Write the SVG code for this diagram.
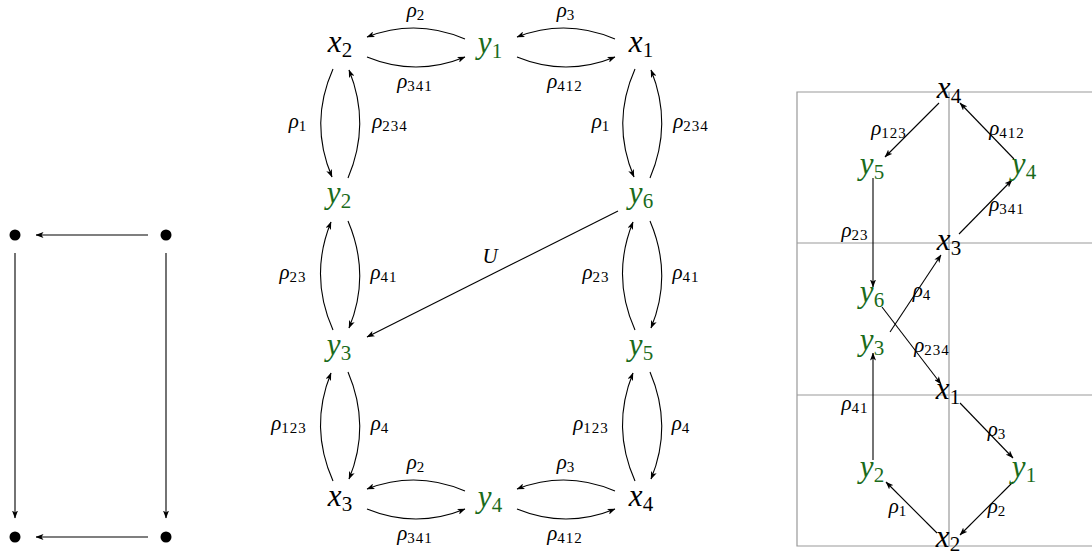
<svg xmlns="http://www.w3.org/2000/svg" width="1092" height="554" viewBox="0 0 1092 554">
<style>
text{font-family:'Liberation Serif','DejaVu Serif','Times New Roman',serif;font-style:italic;fill:#000;text-anchor:middle}
.n{font-size:31px}
.g{fill:#1b6b1b}
.s{font-style:normal;font-size:21px}
.l{font-size:21px}
.ls{font-style:normal;font-size:15px;letter-spacing:1px}
.e{fill:none;stroke:#000;stroke-width:1.1;marker-end:url(#ah)}
.grid{fill:none;stroke:#999;stroke-width:1.2}
</style>
<defs>
<marker id="ah" viewBox="0 0 8 6" refX="7.5" refY="3" markerWidth="8" markerHeight="6" orient="auto" markerUnits="userSpaceOnUse">
<path d="M0,0 L8,3 L0,6 L2,3 Z" fill="#000"/>
</marker>
</defs>
<rect width="1092" height="554" fill="#fff"/>

<g id="left-nodes">
<circle id="d1" cx="15" cy="235" r="5.5"/>
<circle id="d2" cx="166" cy="235" r="5.5"/>
<circle id="d3" cx="15" cy="537" r="5.5"/>
<circle id="d4" cx="166" cy="537" r="5.5"/>
</g>

<g id="grid" class="grid">
<path d="M1100,92 H797 V546 H1100"/>
<path d="M949,92 V546"/>
<path d="M797,243 H1100 M797,395 H1100"/>
</g>

<g id="connectors">
<path class="e" d="M148,235 L36,235"/>
<path class="e" d="M15,253 L15,518"/>
<path class="e" d="M166,253 L166,518"/>
<path class="e" d="M148,537 L36,537"/>
<path class="e" d="M465,39 Q416,18 367,37"/>
<path class="e" d="M367,57 Q416,77 465,57"/>
<path class="e" d="M615,39 Q566,18 517,37"/>
<path class="e" d="M517,57 Q566,77 615,57"/>
<path class="e" d="M465,491 Q416,470 367,489"/>
<path class="e" d="M367,509 Q416,529 465,509"/>
<path class="e" d="M615,491 Q566,470 517,489"/>
<path class="e" d="M517,509 Q566,529 615,509"/>
<path class="e" d="M333,69 Q309,123 332,177"/>
<path class="e" d="M348,178 Q371,124 349,70"/>
<path class="e" d="M333,330 Q309,276 331,222"/>
<path class="e" d="M348,221 Q371,275 349,328"/>
<path class="e" d="M333,481 Q309,427 331,373"/>
<path class="e" d="M348,372 Q371,426 349,479"/>
<path class="e" d="M635,69 Q611,123 634,177"/>
<path class="e" d="M650,178 Q673,124 651,70"/>
<path class="e" d="M635,330 Q611,276 633,222"/>
<path class="e" d="M650,221 Q673,275 651,328"/>
<path class="e" d="M635,481 Q611,427 633,373"/>
<path class="e" d="M650,372 Q673,426 651,479"/>
<path class="e" d="M618,211 L367,337"/>
<path class="e" d="M939,103 L885,157"/>
<path class="e" d="M1014,159 L960,103"/>
<path class="e" d="M873,178 L873,287"/>
<path class="e" d="M959,234 L1012,180"/>
<path class="e" d="M890,332 L941,255"/>
<path class="e" d="M882,307 L941,384"/>
<path class="e" d="M873,460 L873,353"/>
<path class="e" d="M960,403 L1013,458"/>
<path class="e" d="M1013,482 L960,535"/>
<path class="e" d="M937,533 L886,482"/>
</g>

<g id="m-x2"><text class="n" x="340" y="52">x<tspan class="s" dy="5">2</tspan></text></g>
<g id="m-y1"><text class="n g" x="490" y="53">y<tspan class="s" dy="5">1</tspan></text></g>
<g id="m-x1"><text class="n" x="641" y="52">x<tspan class="s" dy="5">1</tspan></text></g>
<g id="m-y2"><text class="n g" x="339" y="203">y<tspan class="s" dy="5">2</tspan></text></g>
<g id="m-y6"><text class="n g" x="641" y="203">y<tspan class="s" dy="5">6</tspan></text></g>
<g id="m-y3"><text class="n g" x="339" y="355">y<tspan class="s" dy="5">3</tspan></text></g>
<g id="m-y5"><text class="n g" x="641" y="355">y<tspan class="s" dy="5">5</tspan></text></g>
<g id="m-x3"><text class="n" x="340" y="506">x<tspan class="s" dy="5">3</tspan></text></g>
<g id="m-y4"><text class="n g" x="490" y="507">y<tspan class="s" dy="5">4</tspan></text></g>
<g id="m-x4"><text class="n" x="641" y="506">x<tspan class="s" dy="5">4</tspan></text></g>

<g id="m-labels">
<text class="l" x="416" y="17">ρ<tspan class="ls" dy="3">2</tspan></text>
<text class="l" x="415" y="88">ρ<tspan class="ls" dy="3">341</tspan></text>
<text class="l" x="566" y="17">ρ<tspan class="ls" dy="3">3</tspan></text>
<text class="l" x="565" y="88">ρ<tspan class="ls" dy="3">412</tspan></text>
<text class="l" x="416" y="469">ρ<tspan class="ls" dy="3">2</tspan></text>
<text class="l" x="415" y="540">ρ<tspan class="ls" dy="3">341</tspan></text>
<text class="l" x="566" y="469">ρ<tspan class="ls" dy="3">3</tspan></text>
<text class="l" x="565" y="540">ρ<tspan class="ls" dy="3">412</tspan></text>
<text class="l" x="298" y="128">ρ<tspan class="ls" dy="3">1</tspan></text>
<text class="l" x="390" y="128">ρ<tspan class="ls" dy="3">234</tspan></text>
<text class="l" x="293" y="279">ρ<tspan class="ls" dy="3">23</tspan></text>
<text class="l" x="384" y="279">ρ<tspan class="ls" dy="3">41</tspan></text>
<text class="l" x="289" y="430">ρ<tspan class="ls" dy="3">123</tspan></text>
<text class="l" x="380" y="430">ρ<tspan class="ls" dy="3">4</tspan></text>
<text class="l" x="601" y="128">ρ<tspan class="ls" dy="3">1</tspan></text>
<text class="l" x="691" y="128">ρ<tspan class="ls" dy="3">234</tspan></text>
<text class="l" x="596" y="279">ρ<tspan class="ls" dy="3">23</tspan></text>
<text class="l" x="686" y="279">ρ<tspan class="ls" dy="3">41</tspan></text>
<text class="l" x="591" y="430">ρ<tspan class="ls" dy="3">123</tspan></text>
<text class="l" x="681" y="430">ρ<tspan class="ls" dy="3">4</tspan></text>
<text class="l" x="490" y="263">U</text>
</g>

<g id="r-x4"><text class="n" x="949" y="98">x<tspan class="s" dy="5">4</tspan></text></g>
<g id="r-y5"><text class="n g" x="872" y="174">y<tspan class="s" dy="5">5</tspan></text></g>
<g id="r-y4"><text class="n g" x="1024" y="174">y<tspan class="s" dy="5">4</tspan></text></g>
<g id="r-x3"><text class="n" x="949" y="250">x<tspan class="s" dy="5">3</tspan></text></g>
<g id="r-y6"><text class="n g" x="872" y="302">y<tspan class="s" dy="5">6</tspan></text></g>
<g id="r-y3"><text class="n g" x="872" y="350">y<tspan class="s" dy="5">3</tspan></text></g>
<g id="r-x1"><text class="n" x="948" y="399">x<tspan class="s" dy="5">1</tspan></text></g>
<g id="r-y2"><text class="n g" x="872" y="477">y<tspan class="s" dy="5">2</tspan></text></g>
<g id="r-y1"><text class="n g" x="1024" y="477">y<tspan class="s" dy="5">1</tspan></text></g>
<g id="r-x2"><text class="n" x="948" y="547">x<tspan class="s" dy="4">2</tspan></text></g>

<g id="r-labels">
<text class="l" x="889" y="135">ρ<tspan class="ls" dy="3">123</tspan></text>
<text class="l" x="1007" y="135">ρ<tspan class="ls" dy="3">412</tspan></text>
<text class="l" x="1007" y="211">ρ<tspan class="ls" dy="3">341</tspan></text>
<text class="l" x="855" y="237">ρ<tspan class="ls" dy="3">23</tspan></text>
<text class="l" x="922" y="297">ρ<tspan class="ls" dy="3">4</tspan></text>
<text class="l" x="932" y="352">ρ<tspan class="ls" dy="3">234</tspan></text>
<text class="l" x="855" y="410">ρ<tspan class="ls" dy="3">41</tspan></text>
<text class="l" x="997" y="436">ρ<tspan class="ls" dy="3">3</tspan></text>
<text class="l" x="997" y="513">ρ<tspan class="ls" dy="3">2</tspan></text>
<text class="l" x="898" y="513">ρ<tspan class="ls" dy="3">1</tspan></text>
</g>
</svg>
